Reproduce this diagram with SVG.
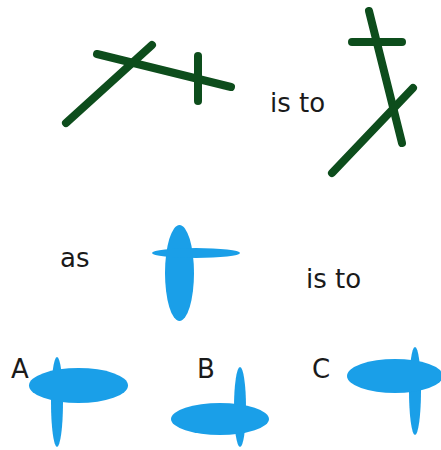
<svg xmlns="http://www.w3.org/2000/svg" width="441" height="450" viewBox="0 0 441 450">
<style>
.g{stroke:#0d4d1c;stroke-width:8;stroke-linecap:round;fill:none}
.b{fill:#1a9fe8}
text{font-family:"DejaVu Sans",sans-serif;font-size:26px;fill:#1a1a1a}
</style>
<rect width="441" height="450" fill="#fff"/>
<g id="figure1">
<line class="g" x1="66" y1="123" x2="152" y2="45"/>
<line class="g" x1="97" y1="54" x2="231" y2="87"/>
<line class="g" x1="198" y1="56" x2="198" y2="101"/>
</g>
<g id="figure2">
<line class="g" x1="369" y1="11" x2="402" y2="143"/>
<line class="g" x1="352" y1="42" x2="402" y2="42"/>
<line class="g" x1="332" y1="173" x2="413" y2="88"/>
</g>
<g id="figure3">
<ellipse class="b" cx="179.5" cy="273" rx="14.5" ry="48"/>
<ellipse class="b" cx="196" cy="253" rx="44" ry="5"/>
</g>
<g id="optionA">
<ellipse class="b" cx="57" cy="402" rx="6" ry="45"/>
<ellipse class="b" cx="78.5" cy="385.5" rx="49.5" ry="17.5"/>
</g>
<g id="optionB">
<ellipse class="b" cx="240" cy="407" rx="6" ry="40"/>
<ellipse class="b" cx="220" cy="419" rx="49" ry="16"/>
</g>
<g id="optionC">
<ellipse class="b" cx="415" cy="391" rx="6" ry="44"/>
<ellipse class="b" cx="395" cy="376" rx="48" ry="17"/>
</g>
<g id="labels">
<text x="270" y="112">is to</text>
<text x="60" y="267">as</text>
<text x="306" y="288">is to</text>
<text x="11" y="378">A</text>
<text x="197" y="378">B</text>
<text x="312" y="378">C</text>
</g>
</svg>
